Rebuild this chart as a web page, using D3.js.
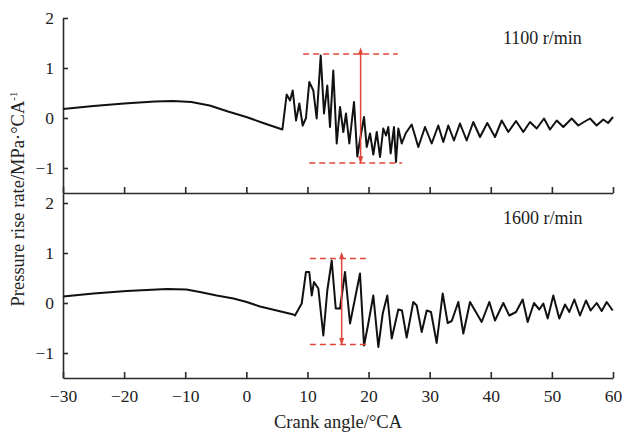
<!DOCTYPE html>
<html><head><meta charset="utf-8">
<script src="https://cdn.jsdelivr.net/npm/d3@7"></script>
<style>
body{margin:0;background:#fff;}
svg{display:block;font-family:"Liberation Serif","Times New Roman",serif;}
</style></head>
<body><svg id="c" width="622" height="437"></svg>
<script>
// ---------- data ----------
const xTicks = [-30,-20,-10,0,10,20,30,40,50,60];
const yTicks = [-1,0,1,2];
const label1100 = "1100 r/min";
const label1600 = "1600 r/min";
// [crank angle, pressure rise rate]
const series1100 = [
[-30,0.18],[-25,0.24],[-20,0.29],[-15,0.33],[-12,0.34],[-9,0.32],[-6,0.25],[-3,0.13],[0,0.02],[3,-0.11],[5.9,-0.23],
[6.6,0.47],[7.15,0.35],[7.59,0.55],[8.13,-0.05],[8.67,0.29],[9.22,-0.15],[9.76,0.0],[10.3,0.72],[10.96,0.55],[11.51,-0.01],
[12.17,1.25],[12.71,0.09],[13.25,0.65],[13.69,-0.18],[14.23,0.95],[14.79,-0.51],[15.33,0.22],[15.87,-0.28],[16.31,0.09],
[16.85,-0.51],[17.62,0.32],[18.16,-0.77],[18.72,-0.35],[19.26,0.02],[19.7,-0.58],[20.24,-0.31],[20.78,-0.73],[21.34,-0.28],
[21.88,-0.78],[22.41,-0.21],[22.86,-0.35],[23.23,-0.18],[23.62,-0.71],[24.16,-0.18],[24.49,-0.88],[24.87,-0.21],
[25.43,-0.51],[26.1,-0.3],[27.06,-0.13],[28.14,-0.58],[29.24,-0.18],[30.33,-0.51],[31.41,-0.15],[32.23,-0.48],[33.05,-0.15],
[33.98,-0.45],[34.96,-0.11],[36.06,-0.45],[37.14,-0.08],[38.24,-0.38],[39.43,-0.10],[40.69,-0.38],[41.79,-0.05],[42.87,-0.28],
[44.13,-0.06],[45.32,-0.28],[46.42,-0.08],[47.52,-0.21],[48.71,-0.01],[49.69,-0.23],[50.79,-0.05],[51.87,-0.18],[53.24,-0.01],
[54.32,-0.15],[55.25,-0.08],[56.24,-0.01],[57.33,-0.15],[58.41,-0.03],[59.2,-0.1],[60,0.02]
];
const series1600 = [
[-30,0.13],[-25,0.19],[-19.6,0.24],[-13,0.28],[-9.8,0.27],[-7.6,0.22],[-4.85,0.15],[-2.1,0.09],[0.06,0.02],[2.24,-0.07],[4.97,-0.15],
[7.69,-0.23],[7.96,-0.25],[9.06,-0.01],[9.76,0.62],[10.3,0.62],[10.7,0.15],[11.07,0.42],[11.78,0.29],[12.6,-0.65],[13.25,0.25],
[13.97,0.85],[14.63,-0.11],[15.33,-0.11],[16.15,0.62],[16.97,-0.41],[18.6,0.59],[19.26,-0.85],[19.96,-0.41],[20.78,0.15],
[21.6,-0.88],[22.32,-0.21],[23.07,0.15],[23.79,-0.71],[24.87,-0.13],[25.47,-0.15],[26.24,-0.69],[27.32,0.02],[27.88,-0.05],
[28.7,-0.58],[29.52,-0.15],[30.22,-0.18],[31.15,-0.8],[32.13,0.19],[32.95,-0.4],[33.61,-0.36],[34.69,0.02],[35.51,-0.61],
[36.6,0.02],[37.42,-0.15],[38.51,-0.38],[39.76,0.02],[40.69,-0.35],[42.05,0],[43.03,-0.25],[44.13,-0.18],[45.22,0.07],
[46.04,-0.38],[47.07,0],[47.94,-0.13],[48.6,-0.01],[49.31,-0.31],[50.23,0.15],[51.21,-0.31],[52.15,-0.03],[52.85,-0.18],
[53.67,0.07],[54.6,-0.25],[55.58,0.05],[56.35,-0.15],[57.33,0],[58.15,-0.16],[58.97,0.02],[59.95,-0.15]
];
// annotation: dashed levels [x0,x1,y] and arrow [x,yTop,yBottom]
const dash1100 = [[9.3,24.8,1.28],[10.3,25.5,-0.9]];
const arrow1100 = [18.7,1.28,-0.9];
const dash1600 = [[10.4,20.2,0.89],[10.4,20.2,-0.83]];
const arrow1600 = [15.6,0.89,-0.83];

// ---------- chart ----------
const svg = d3.select("#c");
const L=63, R=613;
const x = d3.scaleLinear([-30,60],[L,R]);
const yT = d3.scaleLinear([-1.5,2],[193,18]);
const yB = d3.scaleLinear([-1.5,2.2],[378,193]);
const red = "#e0453a";
const axisCol = "#2a2a2a";

const defs = svg.append("defs");
["s","e"].forEach(k=>{
  defs.append("marker").attr("id","ar"+k).attr("viewBox","0 0 10 10")
    .attr("refX",k==="e"?9:1).attr("refY",5).attr("markerWidth",5).attr("markerHeight",5)
    .attr("orient",k==="e"?"auto":"auto-start-reverse")
    .append("path").attr("d","M0,1.5 L10,5 L0,8.5 Z").attr("fill",red);
});
defs.append("clipPath").attr("id","clip").append("rect").attr("x",L).attr("y",0).attr("width",R-L+2).attr("height",437);

function styleAxis(g){
  g.selectAll("path,line").attr("stroke",axisCol).attr("stroke-width",1.6);
  g.selectAll("text").attr("fill","#222").style("font-size","17.5px").attr("font-family","Liberation Serif, Times New Roman, serif");
}

function panel(y, data, dashes, arrow, label, labelY, showXLabels){
  const ga = svg.append("g").attr("transform",`translate(${L},0)`)
    .call(d3.axisLeft(y).tickValues(yTicks).tickSizeInner(-5).tickSizeOuter(0).tickPadding(9).tickFormat(d3.format("d")));
  styleAxis(ga);
  const gx = svg.append("g").attr("transform",`translate(0,${y.range()[0]})`)
    .call(d3.axisBottom(x).tickValues(xTicks).tickSizeInner(-6).tickSizeOuter(0).tickPadding(12)
      .tickFormat(showXLabels? d3.format("d") : ""));
  styleAxis(gx);
  const line = d3.line().x(d=>x(d[0])).y(d=>y(d[1]));
  svg.append("path").datum(data).attr("d",line).attr("fill","none")
    .attr("stroke","#111").attr("stroke-width",2).attr("stroke-linejoin","round").attr("clip-path","url(#clip)");
  dashes.forEach(d=>{
    svg.append("line").attr("x1",x(d[0])).attr("x2",x(d[1])).attr("y1",y(d[2])).attr("y2",y(d[2]))
      .attr("stroke",red).attr("stroke-width",1.7).attr("stroke-dasharray","6,4");
  });
  svg.append("line").attr("x1",x(arrow[0])).attr("x2",x(arrow[0])).attr("y1",y(arrow[1])).attr("y2",y(arrow[2]))
    .attr("stroke",red).attr("stroke-width",1.5)
    .attr("marker-start","url(#ars)").attr("marker-end","url(#are)");
  svg.append("text").attr("x",503).attr("y",labelY).text(label)
    .style("font-size","18px").attr("fill","#222");
}

panel(yT, series1100, dash1100, arrow1100, label1100, 44, false);
panel(yB, series1600, dash1600, arrow1600, label1600, 224, true);

svg.append("text").attr("x",338).attr("y",428).attr("text-anchor","middle")
  .style("font-size","18.5px").attr("fill","#222").text("Crank angle/°CA");
const yt = svg.append("text").attr("transform","translate(24,199) rotate(-90)").attr("text-anchor","middle")
  .style("font-size","18.5px").attr("fill","#222");
yt.append("tspan").text("Pressure rise rate/MPa·°CA");
yt.append("tspan").attr("dy",-7).style("font-size","11px").text("-1");
</script></body></html>
